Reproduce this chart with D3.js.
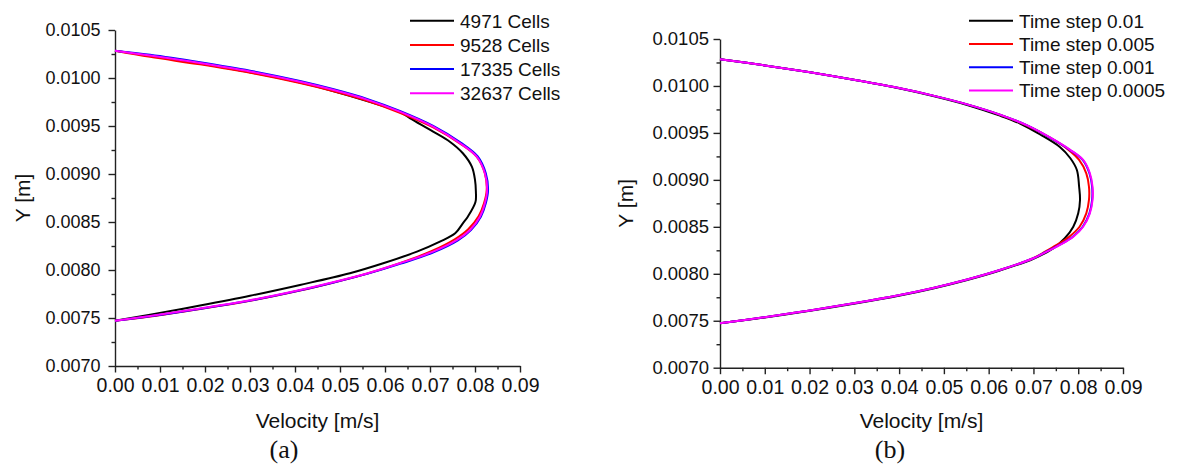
<!DOCTYPE html>
<html>
<head>
<meta charset="utf-8">
<script src="https://cdn.jsdelivr.net/npm/d3@7"></script>
<style>
  html, body { margin: 0; padding: 0; background: #fff; }
  svg { display: block; }
  text { font-family: "Liberation Sans", Arial, sans-serif; fill: #111; }
</style>
</head>
<body>
<svg id="chart" width="1179" height="464"></svg>
<script>
// ---- Axis ticks ----
const xTicks = [0, 0.01, 0.02, 0.03, 0.04, 0.05, 0.06, 0.07, 0.08, 0.09];
const yTicks = [0.0070, 0.0075, 0.0080, 0.0085, 0.0090, 0.0095, 0.0100, 0.0105];
const xMinorTicks = [0.005, 0.015, 0.025, 0.035, 0.045, 0.055, 0.065, 0.075, 0.085];
const yMinorTicks = [0.00725, 0.00775, 0.00825, 0.00875, 0.00925, 0.00975, 0.01025];

// ---- (a) mesh study: [velocity m/s, Y m] ----
const meshLabels = ["4971 Cells", "9528 Cells", "17335 Cells", "32637 Cells"];
const cells4971 = [[0,0.010284],[0.0078,0.010231],[0.0189,0.010151],[0.0300,0.010059],[0.0411,0.009952],[0.0484,0.009865],[0.0560,0.009760],[0.0633,0.009646],[0.0656,0.009580],[0.0707,0.009441],[0.0744,0.009336],[0.0773,0.009216],[0.0793,0.009076],[0.0800,0.008938],[0.0802,0.008813],[0.0801,0.008708],[0.0784,0.008555],[0.0773,0.008486],[0.0756,0.008382],[0.0722,0.008295],[0.0671,0.008191],[0.0596,0.008070],[0.0522,0.007966],[0.0411,0.007844],[0.0300,0.007731],[0.0189,0.007630],[0.0078,0.007535],[0,0.007472]];
const cells9528 = [[0,0.010284],[0.0078,0.010220],[0.0189,0.010142],[0.0300,0.010054],[0.0411,0.009947],[0.0484,0.009864],[0.0560,0.009762],[0.0633,0.009638],[0.0707,0.009486],[0.0767,0.009316],[0.0804,0.009178],[0.0822,0.009005],[0.0826,0.008833],[0.0820,0.008695],[0.0808,0.008560],[0.0785,0.008425],[0.0755,0.008320],[0.0703,0.008196],[0.0631,0.008068],[0.0559,0.007961],[0.0484,0.007868],[0.0411,0.007786],[0.0300,0.007679],[0.0189,0.007593],[0.0078,0.007515],[0,0.007472]];
const cells17335 = [[0,0.010284],[0.0078,0.010242],[0.0189,0.010164],[0.0300,0.010076],[0.0411,0.009969],[0.0484,0.009885],[0.0560,0.009783],[0.0633,0.009657],[0.0707,0.009501],[0.0769,0.009325],[0.0806,0.009183],[0.0824,0.009008],[0.0829,0.008833],[0.0824,0.008695],[0.0813,0.008555],[0.0791,0.008415],[0.0762,0.008308],[0.0709,0.008186],[0.0635,0.008066],[0.0562,0.007962],[0.0486,0.007870],[0.0412,0.007789],[0.0301,0.007682],[0.0190,0.007596],[0.0078,0.007518],[0,0.007472]];
const cells32637 = [[0,0.010284],[0.0078,0.010234],[0.0189,0.010156],[0.0300,0.010068],[0.0411,0.009961],[0.0484,0.009877],[0.0560,0.009775],[0.0633,0.009649],[0.0707,0.009493],[0.0767,0.009320],[0.0804,0.009180],[0.0822,0.009007],[0.0827,0.008833],[0.0822,0.008695],[0.0811,0.008555],[0.0789,0.008417],[0.0760,0.008313],[0.0707,0.008191],[0.0633,0.008070],[0.0560,0.007964],[0.0484,0.007873],[0.0411,0.007792],[0.0300,0.007685],[0.0189,0.007599],[0.0078,0.007521],[0,0.007472]];

// ---- (b) time-step study: [velocity m/s, Y m] ----
const stepLabels = ["Time step 0.01", "Time step 0.005", "Time step 0.001", "Time step 0.0005"];
const step001 = [[0,0.010284],[0.0100,0.010219],[0.0201,0.010145],[0.0302,0.010063],[0.0402,0.009973],[0.0476,0.009893],[0.0552,0.009798],[0.0625,0.009684],[0.0670,0.009600],[0.0715,0.009483],[0.0759,0.009350],[0.0782,0.009233],[0.0797,0.009105],[0.0802,0.008927],[0.0804,0.008786],[0.0800,0.008644],[0.0789,0.008501],[0.0770,0.008378],[0.0744,0.008271],[0.0700,0.008160],[0.0625,0.008035],[0.0552,0.007934],[0.0476,0.007844],[0.0402,0.007769],[0.0302,0.007684],[0.0201,0.007607],[0.0100,0.007535],[0,0.007473]];
const step0005 = [[0,0.010284],[0.0100,0.010219],[0.0201,0.010145],[0.0302,0.010063],[0.0402,0.009975],[0.0476,0.009897],[0.0552,0.009804],[0.0625,0.009694],[0.0685,0.009579],[0.0735,0.009455],[0.0777,0.009325],[0.0802,0.009212],[0.0818,0.009070],[0.0824,0.008927],[0.0824,0.008786],[0.0818,0.008644],[0.0803,0.008501],[0.0780,0.008395],[0.0752,0.008307],[0.0726,0.008235],[0.0698,0.008163],[0.0625,0.008040],[0.0552,0.007939],[0.0476,0.007849],[0.0402,0.007774],[0.0302,0.007688],[0.0201,0.007610],[0.0100,0.007538],[0,0.007473]];
const step0001 = [[0,0.010284],[0.0100,0.010219],[0.0201,0.010145],[0.0302,0.010063],[0.0402,0.009975],[0.0476,0.009897],[0.0552,0.009804],[0.0625,0.009695],[0.0686,0.009580],[0.0736,0.009452],[0.0781,0.009320],[0.0810,0.009212],[0.0825,0.009070],[0.0831,0.008927],[0.0831,0.008786],[0.0825,0.008644],[0.0810,0.008501],[0.0788,0.008395],[0.0758,0.008307],[0.0729,0.008235],[0.0700,0.008165],[0.0625,0.008040],[0.0552,0.007939],[0.0476,0.007849],[0.0402,0.007774],[0.0302,0.007688],[0.0201,0.007610],[0.0100,0.007538],[0,0.007473]];
const step00005 = [[0,0.010284],[0.0100,0.010219],[0.0201,0.010145],[0.0302,0.010063],[0.0402,0.009975],[0.0476,0.009897],[0.0552,0.009804],[0.0625,0.009695],[0.0686,0.009580],[0.0737,0.009452],[0.0782,0.009320],[0.0811,0.009212],[0.0826,0.009070],[0.0832,0.008927],[0.0832,0.008786],[0.0826,0.008644],[0.0811,0.008501],[0.0789,0.008395],[0.0759,0.008307],[0.0730,0.008235],[0.0700,0.008165],[0.0625,0.008040],[0.0552,0.007939],[0.0476,0.007849],[0.0402,0.007774],[0.0302,0.007688],[0.0201,0.007610],[0.0100,0.007538],[0,0.007473]];

const seriesColors = ["#000000", "#ff0000", "#0000ff", "#ff00ff"];

const svg = d3.select("#chart");
svg.append("rect").attr("width", 1179).attr("height", 464).attr("fill", "#fff");

function drawPanel(cfg) {
  const x = d3.scaleLinear().domain([0, 0.09]).range([cfg.x0, cfg.x1]);
  const y = d3.scaleLinear().domain([0.0070, 0.0105]).range([cfg.y0, cfg.y1]);
  const g = svg.append("g");

  // minor ticks
  g.append("g").attr("transform", `translate(0,${cfg.y0})`)
    .call(d3.axisBottom(x).tickValues(xMinorTicks).tickSize(3.5).tickFormat(""))
    .call(a => a.select(".domain").remove());
  g.append("g").attr("transform", `translate(${cfg.x0},0)`)
    .call(d3.axisLeft(y).tickValues(yMinorTicks).tickSize(3.5).tickFormat(""))
    .call(a => a.select(".domain").remove());

  // major axes
  const xa = g.append("g").attr("transform", `translate(0,${cfg.y0})`)
    .call(d3.axisBottom(x).tickValues(xTicks).tickSize(6.5).tickSizeOuter(0)
      .tickPadding(cfg.xPad).tickFormat(d3.format(".2f")));
  xa.selectAll("text").attr("font-size", cfg.xFont).attr("fill", "#111")
    .style("font-family", '"Liberation Sans", Arial, sans-serif');
  const ya = g.append("g").attr("transform", `translate(${cfg.x0},0)`)
    .call(d3.axisLeft(y).tickValues(yTicks).tickSize(6.5).tickSizeOuter(0)
      .tickPadding(cfg.yPad).tickFormat(d3.format(".4f")));
  ya.selectAll("text").attr("font-size", cfg.yFont).attr("fill", "#111")
    .style("font-family", '"Liberation Sans", Arial, sans-serif');
  g.selectAll(".domain, .tick line").attr("stroke", "#222").attr("stroke-width", 1.4);

  // profiles
  const line = d3.line()
    .x(d => x(d[0])).y(d => y(d[1]))
    .curve(d3.curveCatmullRom.alpha(0.5));
  cfg.series.forEach((s, i) => {
    g.append("path").datum(s)
      .attr("d", line)
      .attr("fill", "none")
      .attr("stroke", seriesColors[i])
      .attr("stroke-width", 2)
      .attr("stroke-linejoin", "round");
  });

  // legend
  cfg.labels.forEach((lab, i) => {
    const cy = cfg.legY + i * cfg.legStep;
    g.append("line")
      .attr("x1", cfg.legX).attr("x2", cfg.legX + 44)
      .attr("y1", cy).attr("y2", cy)
      .attr("stroke", seriesColors[i]).attr("stroke-width", 2);
    g.append("text")
      .attr("x", cfg.legX + 50).attr("y", cy + 6.8)
      .attr("font-size", 19)
      .text(lab);
  });

  // axis titles
  g.append("text")
    .attr("x", (cfg.x0 + cfg.x1) / 2).attr("y", 428)
    .attr("text-anchor", "middle").attr("font-size", 21)
    .text("Velocity [m/s]");
  g.append("text")
    .attr("transform", `translate(${cfg.yTitleX},${(cfg.y0 + cfg.y1) / 2}) rotate(-90)`)
    .attr("text-anchor", "middle").attr("font-size", 21)
    .text("Y [m]");

  // panel tag
  g.append("text")
    .attr("x", cfg.tagX).attr("y", 458)
    .attr("text-anchor", "middle").attr("font-size", 26)
    .style("font-family", '"Liberation Serif", "Times New Roman", serif')
    .text(cfg.tag);
}

drawPanel({
  x0: 115, x1: 520, y0: 366, y1: 30,
  xPad: 5.5, yPad: 8, xFont: 19.5, yFont: 18,
  series: [cells4971, cells9528, cells17335, cells32637],
  labels: meshLabels,
  legX: 410, legY: 20.7, legStep: 24.2,
  yTitleX: 30, tagX: 284, tag: "(a)"
});

drawPanel({
  x0: 720, x1: 1123, y0: 367.7, y1: 39,
  xPad: 5.5, yPad: 4.5, xFont: 19.5, yFont: 18.5,
  series: [step001, step0005, step0001, step00005],
  labels: stepLabels,
  legX: 969, legY: 20.7, legStep: 23.3,
  yTitleX: 633, tagX: 890, tag: "(b)"
});
</script>
</body>
</html>
